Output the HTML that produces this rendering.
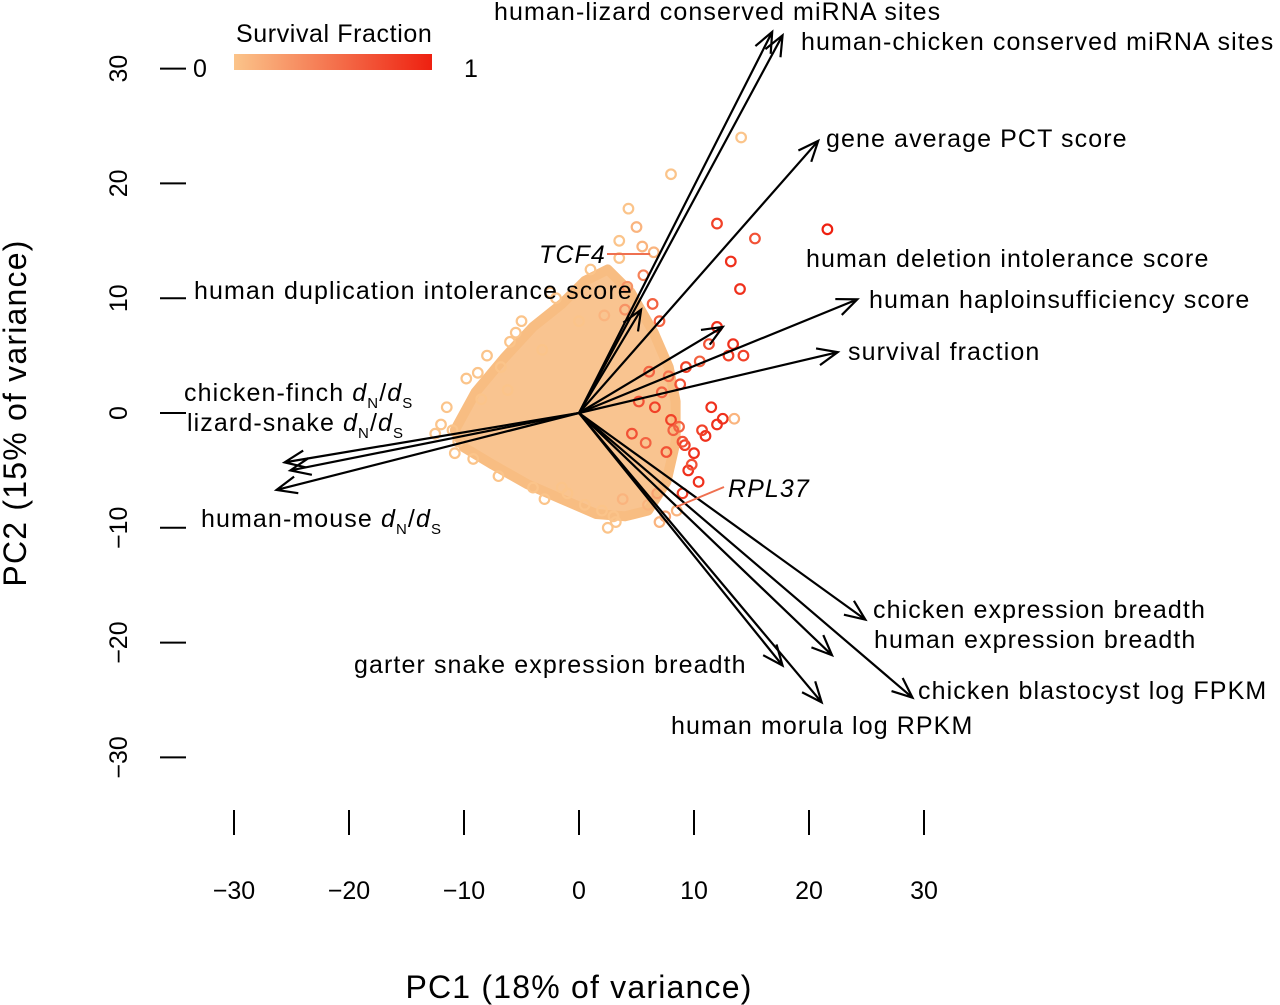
<!DOCTYPE html>
<html><head><meta charset="utf-8"><style>
body{margin:0;background:#fff}
svg{display:block;font-family:"Liberation Sans",sans-serif}
</style></head><body>
<svg id="chart" width="1280" height="1005" viewBox="0 0 1280 1005">
<defs><linearGradient id="sg" x1="0" x2="1"><stop offset="0" stop-color="#fbc48a"/><stop offset="1" stop-color="#ee2010"/></linearGradient></defs>
<g id="ticks"></g>
<g id="cloud"></g>
<g id="arrows"></g>
<g id="labels" font-size="25" letter-spacing="1.1" fill="#000">
<text x="494" y="20">human-lizard conserved miRNA sites</text>
<text x="801" y="50">human-chicken conserved miRNA sites</text>
<text x="826" y="147">gene average PCT score</text>
<text x="806" y="267">human deletion intolerance score</text>
<text x="869" y="308">human haploinsufficiency score</text>
<text x="194" y="299">human duplication intolerance score</text>
<text x="848" y="360">survival fraction</text>
<text x="184" y="401">chicken-finch <tspan font-style="italic">d</tspan><tspan font-size="15" dy="7">N</tspan><tspan dy="-7">/</tspan><tspan font-style="italic">d</tspan><tspan font-size="15" dy="7">S</tspan></text>
<text x="187" y="431">lizard-snake <tspan font-style="italic">d</tspan><tspan font-size="15" dy="7">N</tspan><tspan dy="-7">/</tspan><tspan font-style="italic">d</tspan><tspan font-size="15" dy="7">S</tspan></text>
<text x="201" y="527">human-mouse <tspan font-style="italic">d</tspan><tspan font-size="15" dy="7">N</tspan><tspan dy="-7">/</tspan><tspan font-style="italic">d</tspan><tspan font-size="15" dy="7">S</tspan></text>
<text x="873" y="618">chicken expression breadth</text>
<text x="874" y="648">human expression breadth</text>
<text x="354" y="673">garter snake expression breadth</text>
<text x="918" y="699">chicken blastocyst log FPKM</text>
<text x="671" y="734">human morula log RPKM</text>
<text x="539" y="263" font-style="italic">TCF4</text>
<text x="728" y="497" font-style="italic">RPL37</text>
</g>
<line x1="607" y1="254" x2="650" y2="254" stroke="#ef7050" stroke-width="2"/>
<line x1="724" y1="487" x2="676" y2="507" stroke="#ef7050" stroke-width="2"/>
<g>
<text x="236" y="42" font-size="25" letter-spacing="0.6">Survival Fraction</text>
<rect x="234" y="54" width="198" height="16" fill="url(#sg)"/>
<text x="193" y="77" font-size="25">0</text>
<text x="464" y="77" font-size="25">1</text>
</g>
<text x="579" y="998" font-size="32" letter-spacing="1.2" text-anchor="middle">PC1 (18% of variance)</text>
<text transform="translate(26,413) rotate(-90)" font-size="32" letter-spacing="1.2" text-anchor="middle">PC2 (15% of variance)</text>
</svg>
<script>
const xTicks=[-30,-20,-10,0,10,20,30];
const yTicks=[-30,-20,-10,0,10,20,30];
const arrowNames=["human-lizard","human-chicken","gene-pct","deletion-intolerance","duplication-intolerance","haploinsufficiency","survival-fraction","chicken-finch","lizard-snake","human-mouse","chicken-expression","human-expression","chicken-blastocyst","garter-snake","human-morula"];
const arrowX=[16.8,17.7,20.8,12.5,5.4,24.2,22.5,-25.6,-25.1,-26.3,24.9,22.0,29.0,17.7,21.1];
const arrowY=[33.2,32.9,23.7,7.5,9.0,9.9,5.3,-4.3,-5.0,-6.7,-18.0,-21.1,-24.8,-22.0,-25.2];
const coreX=[-10.8,-9.0,-6.5,-4.0,-1.5,0.5,2.5,4.5,6.5,7.8,8.4,8.4,7.6,6.0,4.0,1.5,-1.5,-4.5,-7.5,-10.0];
const coreY=[-1.5,1.8,4.8,7.5,9.5,11.5,12.5,10.5,7.0,4.0,1.0,-2.5,-6.0,-8.5,-9.0,-8.8,-7.5,-6.2,-4.5,-3.0];
const ptX=[14.1,8.0,4.3,12.0,21.6,15.3,13.2,14.0,6.5,3.5,5.0,-6.2,-8.5,-11.0,-10.5,-9.2,-7.0,-4.0,-3.0,-1.0,2.0,3.0,6.0,7.5,8.5,9.0,9.5,10.0,11.0,12.0,12.5,13.5,13.0,9.8,10.4,9.2,8.2,7.8,8.8,10.5,11.3,12.0,13.4,14.3,2.2,4.0,6.4,7.0,5.6,4.2,1.0,-2.0,-5.5,-8.0,-12.0,0.5,-1.5,3.2,6.8,9.0,10.7,11.5,7.2,8.0,4.6,5.8,6.6,7.6,6.1,5.2,9.3,8.7,-3.2,-6.8,-9.8,2.5,3.8,0.0,-11.5,-12.5,-10.8,-5.0,-2.5,3.5,5.5,7.0,-8.8,-6.0];
const ptY=[24.0,20.8,17.8,16.5,16.0,15.2,13.2,10.8,14.0,15.0,16.2,2.0,1.2,-1.5,-2.5,-4.0,-5.5,-6.5,-7.5,-7.0,-8.5,-9.0,-8.0,-9.0,-8.5,-7.0,-5.0,-3.5,-2.0,-1.0,-0.5,-0.5,5.0,-4.5,-6.0,-2.8,-1.5,3.2,2.5,4.5,6.0,7.5,6.0,5.0,8.5,9.0,9.5,8.0,12.0,11.0,12.5,10.0,7.0,5.0,-1.0,-8.0,-6.5,-9.5,-7.0,-2.5,-1.5,0.5,1.8,-0.6,-1.8,-2.6,0.5,-3.4,3.6,1.0,4.0,-1.2,5.5,4.0,3.0,-10.0,-7.5,8.0,0.5,-1.8,-3.5,8.0,10.5,13.5,14.5,-9.5,3.5,6.2];
const ptS=[0,0,0,0.8,1,0.7,0.9,0.9,0.1,0,0.1,0,0,0,0,0,0,0,0,0,0,0,0.1,0.2,0.1,0.8,0.9,0.9,0.9,0.9,0.9,0.1,0.8,0.7,0.9,0.8,0.6,0.5,0.7,0.6,0.7,0.9,0.9,0.8,0.1,0.3,0.6,0.6,0.4,0.3,0,0,0,0,0,0,0,0,0.2,0.7,0.8,0.9,0.6,0.8,0.7,0.6,0.8,0.7,0.6,0.7,0.8,0.6,0,0,0,0,0.1,0,0,0,0,0,0,0,0.1,0.1,0,0];
const NS="http://www.w3.org/2000/svg";
const X=v=>579+v*11.5, Y=v=>413-v*11.48;
function mk(tag,attrs,parent){const e=document.createElementNS(NS,tag);for(const k in attrs)e.setAttribute(k,attrs[k]);parent.appendChild(e);return e;}
function col(s){const a=[251,196,138],b=[238,32,16];return `rgb(${a.map((c,i)=>Math.round(c+(b[i]-c)*s)).join(',')})`;}
const tg=document.getElementById('ticks');
xTicks.forEach(t=>{
 const l=mk('line',{x1:X(t),x2:X(t),y1:810,y2:835,stroke:'#000','stroke-width':2},tg);
 
 
 const tx=mk('text',{x:X(t),y:899,'font-size':25,'text-anchor':'middle'},tg);
 tx.textContent=t<0?'\u2212'+(-t):t;
 
 
});
yTicks.forEach(t=>{
 const l=mk('line',{x1:160,x2:186,y1:Y(t),y2:Y(t),stroke:'#000','stroke-width':2},tg);
 
 
 const tx=mk('text',{'font-size':25,'text-anchor':'middle',transform:`translate(127,${Y(t)}) rotate(-90)`},tg);
 tx.textContent=t<0?'\u2212'+(-t):t;
 
 
});
const cg=document.getElementById('cloud');
const core=mk('polygon',{points:coreX.map((x,i)=>X(x)+','+Y(coreY[i])).join(' '),fill:'#f9c490',stroke:'#f8bd82','stroke-width':10,'stroke-linejoin':'round'},cg);


ptX.forEach((x,i)=>{
 const c=mk('circle',{cx:X(x),cy:Y(ptY[i]),r:4.8,fill:'none',stroke:col(ptS[i]),'stroke-width':2.2},cg);
 
 
});
const ag=document.getElementById('arrows');
arrowX.forEach((ax,i)=>{
 const x2=X(ax),y2=Y(arrowY[i]),x1=X(0),y1=Y(0);
 const ang=Math.atan2(y2-y1,x2-x1),h=22,s=0.4;
 const p=`M${x1},${y1}L${x2},${y2}M${x2-h*Math.cos(ang-s)},${y2-h*Math.sin(ang-s)}L${x2},${y2}L${x2-h*Math.cos(ang+s)},${y2-h*Math.sin(ang+s)}`;
 const e=mk('path',{d:p,fill:'none',stroke:'#000','stroke-width':2.2},ag);
 
 
});
</script>
</body></html>
